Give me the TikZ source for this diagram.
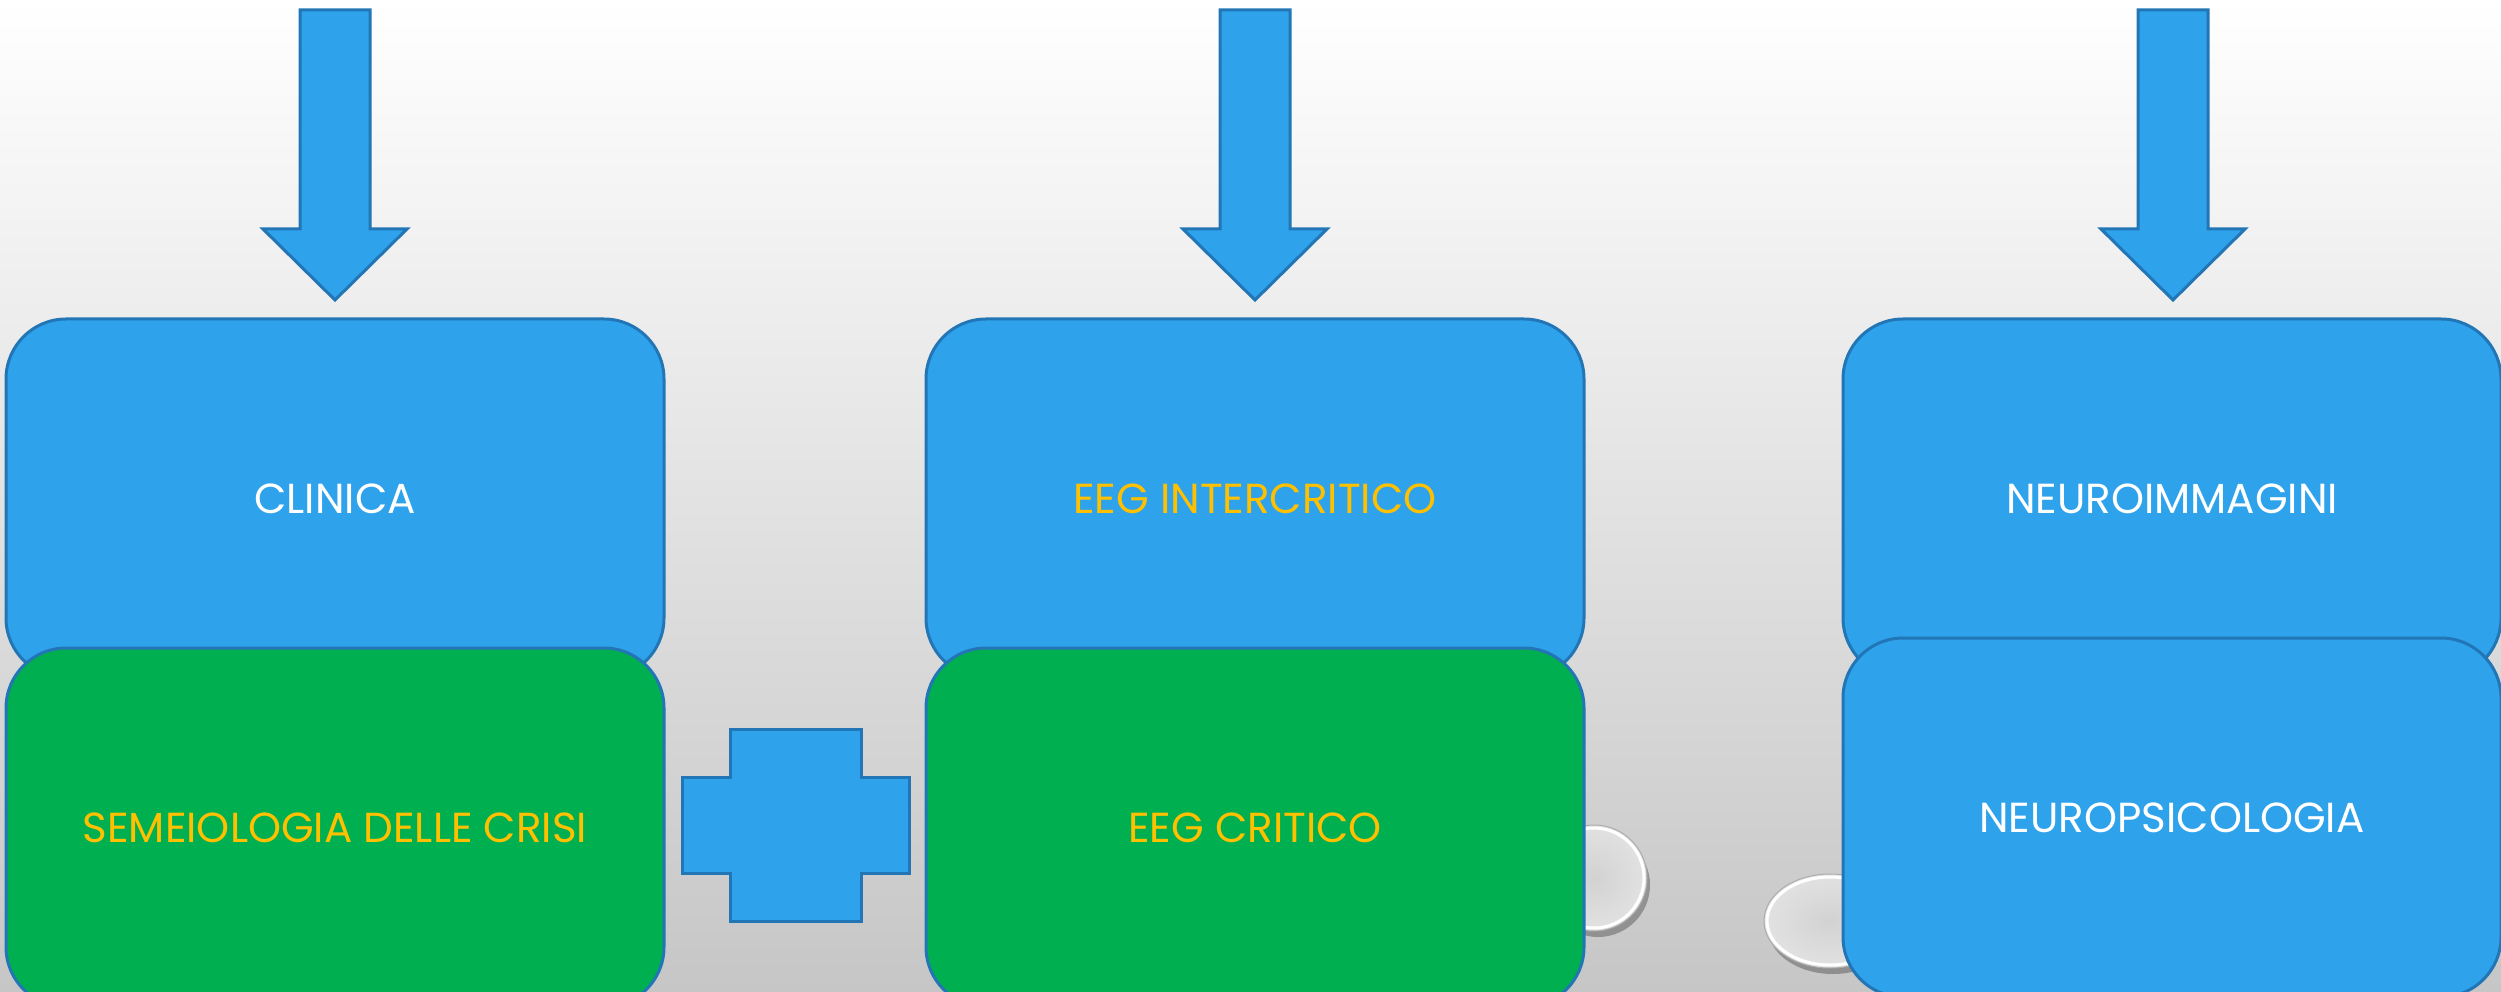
\documentclass[tikz,border=0pt]{standalone}
\usepackage{fontspec}
\setmainfont{Poppins}
\usetikzlibrary{calc}
\definecolor{boxblue}{HTML}{2FA2EC}
\definecolor{edgeblue}{HTML}{2276B6}
\definecolor{boxgreen}{HTML}{00AF50}
\definecolor{gold}{HTML}{FFC000}
\definecolor{bgtop}{HTML}{FFFFFF}
\definecolor{bgmid}{HTML}{F0F0F0}
\definecolor{bgbot}{HTML}{C6C6C6}
\definecolor{discin}{HTML}{D2D2D2}
\definecolor{discout}{HTML}{E2E2E2}
\tikzset{
  card/.style={draw=edgeblue, line width=3pt, rounded corners=60pt,
    minimum width=658pt, minimum height=359pt, inner sep=0pt,
    font=\fontsize{42}{48}\selectfont},
  bluecard/.style={card, fill=boxblue},
  greencard/.style={card, fill=boxgreen},
  blockarrow/.style={draw=edgeblue, line width=3pt, fill=boxblue, line join=miter},
  disc/.style={inner color=discin, outer color=discout},
  discrim/.style={draw=white, line width=3pt},
  discedge/.style={draw=gray!65, line width=1pt},
  discshadow/.style={fill=black, opacity=0.28}
}
\begin{document}
\begin{tikzpicture}[x=1pt,y=-1pt]
\useasboundingbox (0,0) rectangle (2501,992);
\shade[top color=bgtop, middle color=bgmid, bottom color=bgbot] (0,0) rectangle (2501,992);
% glass discs (behind boxes)
\fill[discshadow] (1598,885) circle[radius=52];
\shade[disc] (1594,878) circle[radius=53];
\draw[discrim] (1594,878) circle[radius=50];
\draw[discedge] (1594,878) circle[radius=53];
\fill[discshadow] (1833,928) ellipse[x radius=65, y radius=46];
\shade[disc] (1830,921) ellipse[x radius=66, y radius=47];
\draw[discrim] (1830,921) ellipse[x radius=63, y radius=44];
\draw[discedge] (1830,921) ellipse[x radius=66, y radius=47];
% block arrows
\foreach \cx in {335,1255,2173}{
  \draw[blockarrow] (\cx-35,10) -- (\cx+35,10) -- (\cx+35,229) -- (\cx+72,229)
    -- (\cx,300) -- (\cx-72,229) -- (\cx-35,229) -- cycle;
}
% boxes
\node[bluecard, text=white] (clin) at (335,498.5) {CLINICA};
\node[greencard, text=gold] (semei) at (335,827.5) {SEMEIOLOGIA DELLE CRISI};
\node[bluecard, text=gold] (eegi) at (1255,498.5) {EEG INTERCRITICO};
\node[greencard, text=gold] (eegc) at (1255,827.5) {EEG CRITICO};
\node[bluecard, text=white] (neuroi) at (2172,498.5) {NEUROIMMAGINI};
\node[bluecard, text=white] (neurop) at (2172,817.5) {NEUROPSICOLOGIA};
% plus sign
\draw[blockarrow] (730,729) -- (861,729) -- (861,777) -- (909,777) -- (909,873)
  -- (861,873) -- (861,921) -- (730,921) -- (730,873) -- (682,873) -- (682,777)
  -- (730,777) -- cycle;
\end{tikzpicture}
\end{document}
